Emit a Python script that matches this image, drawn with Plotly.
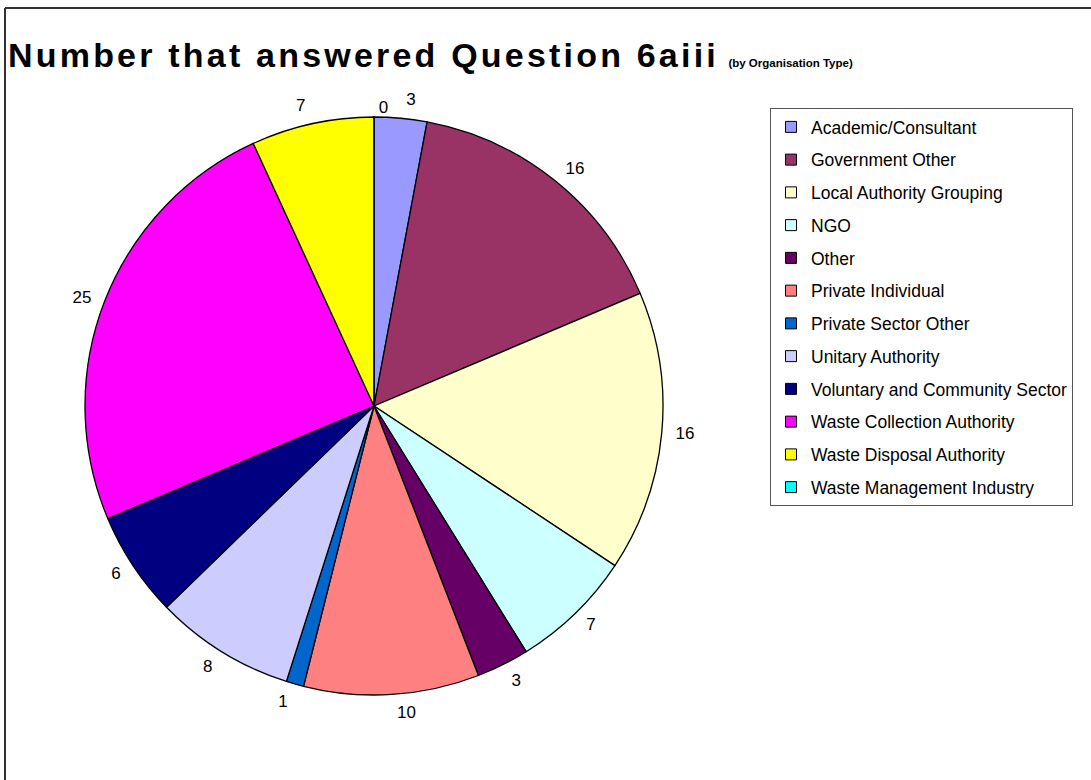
import plotly.graph_objects as go

# Responses per organisation type
categories = [
    "Academic/Consultant",
    "Government Other",
    "Local Authority Grouping",
    "NGO",
    "Other",
    "Private Individual",
    "Private Sector Other",
    "Unitary Authority",
    "Voluntary and Community Sector",
    "Waste Collection Authority",
    "Waste Disposal Authority",
    "Waste Management Industry",
]
counts = [3, 16, 16, 7, 3, 10, 1, 8, 6, 25, 7, 0]
slice_colors = [
    "#9999FF", "#993366", "#FFFFCC", "#CCFFFF", "#660066", "#FF8080",
    "#0066CC", "#CCCCFF", "#000080", "#FF00FF", "#FFFF00", "#00FFFF",
]

W, H = 1091, 780
FONT = "Arial, Liberation Sans, sans-serif"

# pie box (pixels): centre (374, 406), radius 289
CX, CY, R = 374, 406, 289
LABEL_PAD = 9  # value labels sit a little outside the rim


def domain(r):
    return dict(x=[(CX - r) / W, (CX + r) / W],
                y=[1 - (CY + r) / H, 1 - (CY - r) / H])


# empty slices are labelled by the coloured pie, the rest by the outer ring,
# so the two labels at twelve o'clock don't push each other around
zero_tpl = ["%{value}" if v == 0 else "" for v in counts]
ring_tpl = ["" if v == 0 else "%{value}" for v in counts]

fig = go.Figure()

# coloured slices
fig.add_trace(
    go.Pie(
        labels=categories,
        values=counts,
        sort=False,
        direction="clockwise",
        rotation=0,
        marker=dict(colors=slice_colors, line=dict(color="#000000", width=1.3)),
        texttemplate=zero_tpl,
        textposition="outside",
        textfont=dict(family=FONT, size=17, color="#000000"),
        showlegend=False,
        domain=domain(R),
        hoverinfo="label+value",
    )
)

# transparent copy, slightly larger, carrying the value labels
fig.add_trace(
    go.Pie(
        labels=categories,
        values=counts,
        sort=False,
        direction="clockwise",
        rotation=0,
        marker=dict(colors=["rgba(0,0,0,0)"] * len(counts),
                    line=dict(width=0)),
        texttemplate=ring_tpl,
        textposition="outside",
        textfont=dict(family=FONT, size=17, color="#000000"),
        showlegend=False,
        domain=domain(R + LABEL_PAD),
        hoverinfo="skip",
    )
)

# Legend entries with square swatches, one group each for wider row spacing
for name, col in zip(categories, slice_colors):
    fig.add_trace(
        go.Scatter(
            x=[None], y=[None], mode="markers", name=name,
            legendgroup=name,
            marker=dict(symbol="square", size=11, color=col,
                        line=dict(color="#000000", width=1)),
            hoverinfo="skip",
        )
    )

fig.update_layout(
    width=W,
    height=H,
    margin=dict(l=0, r=0, t=0, b=0),
    paper_bgcolor="#FFFFFF",
    plot_bgcolor="#FFFFFF",
    font=dict(family=FONT, color="#000000"),
    xaxis=dict(visible=False),
    yaxis=dict(visible=False),
    title=dict(
        text=("<b><span style='letter-spacing:3.2px'>Number that answered Question 6aiii</span>"
              " <span style='font-size:11.5px'>(by Organisation Type)</span></b>"),
        x=8 / W,
        xanchor="left",
        y=1 - 55 / H,
        yanchor="middle",
        font=dict(family=FONT, size=34, color="#000000"),
    ),
    legend=dict(
        x=770 / W,
        xanchor="left",
        y=1 - 108 / H,
        yanchor="top",
        bordercolor="#555555",
        borderwidth=1,
        bgcolor="#FFFFFF",
        font=dict(family=FONT, size=17.5, color="#000000"),
        tracegroupgap=7,
        itemwidth=30,
    ),
    shapes=[
        dict(type="line", xref="paper", yref="paper",
             x0=5 / W, x1=5 / W, y0=0, y1=1 - 8 / H,
             line=dict(color="#333333", width=2)),
        dict(type="line", xref="paper", yref="paper",
             x0=5 / W, x1=1, y0=1 - 8 / H, y1=1 - 8 / H,
             line=dict(color="#333333", width=2)),
    ],
)

fig.write_html("out.html")
